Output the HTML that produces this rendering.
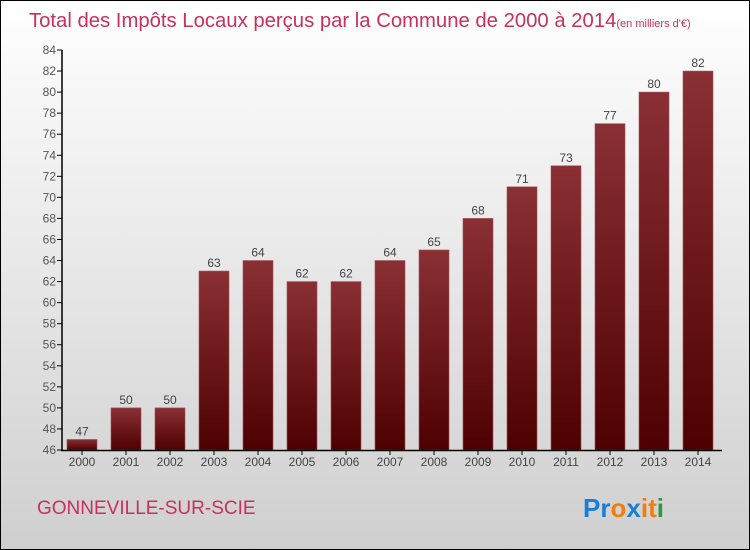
<!DOCTYPE html>
<html><head><meta charset="utf-8"><style>
body{margin:0}
#wrap{position:relative;width:748px;height:548px;border:1px solid #000;background:linear-gradient(#fff,#cfcfcf);font-family:"Liberation Sans",sans-serif;overflow:hidden}
</style></head><body>
<div id="wrap">
<svg id="chart" width="748" height="548">
<defs><linearGradient id="bg" x1="0" y1="0" x2="0" y2="1"><stop offset="0" stop-color="#8a3035"/><stop offset="1" stop-color="#4e0000"/></linearGradient></defs>
<text x="28" y="26" font-size="20.3" fill="#c8305e">Total des Impôts Locaux perçus par la Commune de 2000 à 2014<tspan font-size="11">(en milliers d'€)</tspan></text>
<text x="36" y="513" font-size="19" fill="#c8305e">GONNEVILLE-SUR-SCIE</text>
<g font-size="26" font-weight="bold" font-family="'Liberation Sans',sans-serif">
<text x="582" y="516"><tspan fill="#1a7fd4">Pr</tspan><tspan fill="#f07d10">o</tspan><tspan fill="#1a7fd4">x</tspan><tspan fill="#f07d10">i</tspan><tspan fill="#f07d10">t</tspan><tspan fill="#2a9a3a">i</tspan></text></g>
<g id="plot"></g>
</svg>
</div>
<script>
const years=["2000","2001","2002","2003","2004","2005","2006","2007","2008","2009","2010","2011","2012","2013","2014"];
const values=[47,50,50,63,64,62,62,64,65,68,71,73,77,80,82];
const yTicks=[46,48,50,52,54,56,58,60,62,64,66,68,70,72,74,76,78,80,82,84];
const NS="http://www.w3.org/2000/svg";
const g=document.getElementById('plot');
const y=v=>449-(v-46)*400/38;
const x=i=>81+i*44;
function mk(t,a,txt){const e=document.createElementNS(NS,t);for(const k in a)e.setAttribute(k,a[k]);if(txt!=null)e.textContent=txt;g.appendChild(e);return e;}
yTicks.forEach(v=>{
 const l=mk('line',{x1:56,x2:61,y1:y(v),y2:y(v),stroke:'#000'});
 
 
 const t=mk('text',{x:55,y:y(v)+4,'font-size':12,fill:'#555','text-anchor':'end'},v);
 
 
});
values.forEach((v,i)=>{
 const r=mk('rect',{x:x(i)-15,y:y(v),width:30,height:y(46)-y(v),fill:'url(#bg)',stroke:'#a05058','stroke-width':0.6});
 
 
 const t=mk('text',{x:x(i),y:y(v)-4,'font-size':12,fill:'#444','text-anchor':'middle'},v);
 
 
 const tk=mk('line',{x1:x(i),x2:x(i),y1:449,y2:454,stroke:'#000'});
 
 
 const xl=mk('text',{x:x(i),y:465,'font-size':12,fill:'#444','text-anchor':'middle'},years[i]);
 
 
});
const ya=mk('line',{x1:61,x2:61,y1:y(84),y2:450,stroke:'#000','stroke-width':1.5});


const xa=mk('line',{x1:60,x2:721,y1:449.5,y2:449.5,stroke:'#000','stroke-width':1.5});


</script>
</body></html>
